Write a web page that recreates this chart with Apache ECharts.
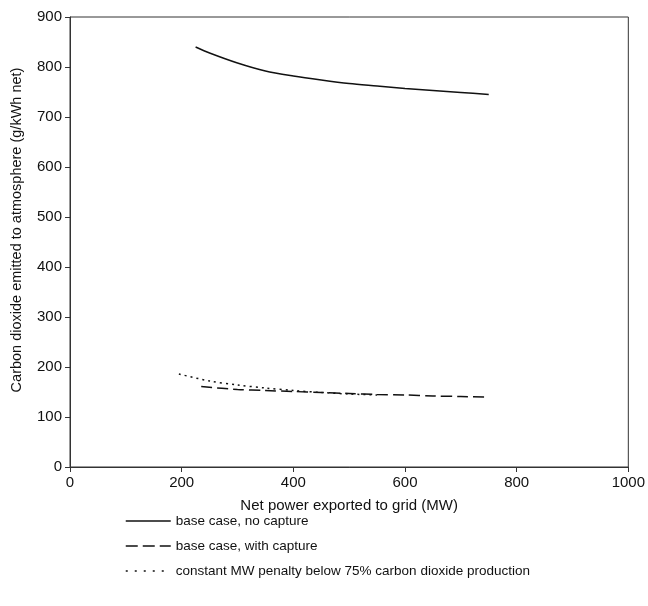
<!DOCTYPE html>
<html>
<head>
<meta charset="utf-8">
<script src="https://cdn.jsdelivr.net/npm/echarts@6/dist/echarts.min.js"></script>
<style>
  html, body { margin: 0; padding: 0; background: #fff; }
  #chart { width: 648px; height: 606px; }
</style>
</head>
<body>
<div id="chart"></div>
<script>
// Net power exported (MW) vs. CO2 emitted (g/kWh net)
const noCaptureX = [225, 250, 300, 350, 400, 450, 500, 550, 600, 650, 700, 750];
const noCaptureY = [840, 828, 808, 792, 782, 774, 767, 762, 757, 753, 749, 745];

const withCaptureX = [235, 300, 350, 400, 450, 500, 550, 600, 650, 700, 750];
const withCaptureY = [161, 155, 153, 151, 149, 147, 145, 144, 142, 141, 140];

const penaltyX = [195, 250, 300, 350, 400, 450, 500, 550];
const penaltyY = [186, 172, 164, 158, 153, 149, 146, 144];

const seriesNames = [
  'base case, no capture',
  'base case, with capture',
  'constant MW penalty below 75% carbon dioxide production'
];

const xTicks = { min: 0, max: 1000, interval: 200 };
const yTicks = { min: 0, max: 900, interval: 100 };

function pairs(xs, ys) { return xs.map((x, i) => [x, ys[i]]); }

const font = 'Liberation Sans, Arial, sans-serif';
const ink = '#111';
const dashTypes = ['solid', [11, 5], [2, 4]];
const legendDashTypes = ['solid', [12, 5], [2, 7]];
const chart = echarts.init(document.getElementById('chart'));

function lineSeries(name, data, type) {
  return {
    name: name, type: 'line', smooth: 0.3,
    symbol: 'none', showSymbol: false,
    itemStyle: { color: ink },
    lineStyle: { color: ink, width: 1.5, type: type },
    data: data
  };
}

chart.setOption({
  animation: false,
  backgroundColor: '#fff',
  textStyle: { fontFamily: font },
  grid: {
    left: 70, right: 19, top: 17, bottom: 139,
    show: true, borderColor: '#333', borderWidth: 1
  },
  xAxis: {
    type: 'value',
    min: xTicks.min, max: xTicks.max, interval: xTicks.interval,
    name: 'Net power exported to grid (MW)',
    nameLocation: 'middle', nameGap: 31,
    nameTextStyle: { fontSize: 15, color: ink, fontFamily: font },
    axisLine: { lineStyle: { color: '#333', width: 1 } },
    axisTick: { show: true, length: 5, lineStyle: { color: '#333' } },
    axisLabel: { fontSize: 15, color: ink, margin: 8, fontFamily: font,
                 formatter: v => String(v) },
    splitLine: { show: false }
  },
  yAxis: {
    type: 'value',
    min: yTicks.min, max: yTicks.max, interval: yTicks.interval,
    name: 'Carbon dioxide emitted to atmosphere (g/kWh net)',
    nameLocation: 'middle', nameGap: 46,
    nameTextStyle: { fontSize: 14.5, color: ink, fontFamily: font,
                     padding: [0, 0, 0, 24] },
    axisLine: { show: true, lineStyle: { color: '#333', width: 1 } },
    axisTick: { show: true, length: 5, lineStyle: { color: '#333' } },
    axisLabel: { fontSize: 15, color: ink, margin: 8, fontFamily: font },
    splitLine: { show: false }
  },
  legend: {
    orient: 'vertical',
    left: 120, top: 509,
    itemWidth: 45, itemHeight: 12, itemGap: 11,
    itemStyle: { opacity: 0 },
    textStyle: { fontSize: 13.5, color: ink, fontFamily: font },
    data: seriesNames.map((n, i) => ({
      name: n,
      lineStyle: { color: ink, width: 1.5, type: legendDashTypes[i] }
    }))
  },
  series: [
    lineSeries(seriesNames[0], pairs(noCaptureX, noCaptureY), dashTypes[0]),
    lineSeries(seriesNames[1], pairs(withCaptureX, withCaptureY), dashTypes[1]),
    lineSeries(seriesNames[2], pairs(penaltyX, penaltyY), dashTypes[2])
  ]
});
</script>
</body>
</html>
